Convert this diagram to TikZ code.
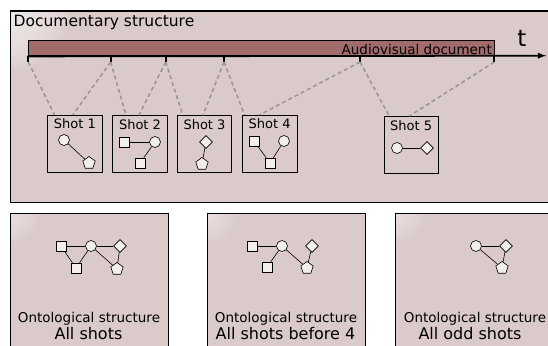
\documentclass[tikz,border=0pt]{standalone}
\usepackage{fontspec}
\setmainfont{DejaVu Sans}
\usetikzlibrary{shapes,arrows,positioning}

\definecolor{panelbg}{RGB}{218,202,202}
\definecolor{barred}{RGB}{162,108,108}
\definecolor{glyphfill}{RGB}{242,238,238}
\definecolor{cutgray}{RGB}{150,150,150}

\begin{document}
\begin{tikzpicture}[x=1pt, y=-1pt,
    panel/.style={rectangle, draw, line width=0.9pt, fill=panelbg, anchor=north west, inner sep=0pt},
    glow/.style={path picture={\foreach \r in {2,4,...,#1} \fill[white, opacity=0.045] (path picture bounding box.north west) circle (\r pt);}},
    docbar/.style={rectangle, draw, line width=1.4pt, fill=barred, minimum width=466pt, minimum height=15pt, inner sep=0pt},
    shot/.style={rectangle, draw, line width=0.8pt, minimum width=54.5pt, minimum height=57pt, inner sep=0pt},
    shotlbl/.style={font=\fontsize{13}{13}\selectfont, inner sep=0pt},
    sq/.style={rectangle, draw, fill=glyphfill, line width=0.6pt, minimum size=10pt, inner sep=0pt},
    circ/.style={circle, draw, fill=glyphfill, line width=0.6pt, minimum size=11pt, inner sep=0pt},
    diam/.style={diamond, draw, fill=glyphfill, line width=0.6pt, minimum size=13pt, inner sep=0pt},
    pent/.style={regular polygon, regular polygon sides=5, draw, fill=glyphfill, line width=0.6pt, minimum size=13pt, inner sep=0pt},
    link/.style={line width=0.6pt},
    cut/.style={cutgray, line width=1.5pt, dash pattern=on 4pt off 3pt},
    tickmark/.style={line width=2pt}
]
\useasboundingbox (0,0) rectangle (548,345);
\clip (0,0) rectangle (548,345);

% Documentary structure
\node[panel, glow=60, line width=1.2pt, minimum width=560pt, minimum height=191.5pt] (docstruct) at (10,10.5) {};
\node[anchor=base west, inner sep=0pt, font=\fontsize{15.5}{15.5}\selectfont] (docttl) at (13.5,27) {Documentary structure};

% time line
\node[docbar] (doc) at (261.3,48.2) {};
\node[anchor=base east, inner sep=0pt, font=\fontsize{13.5}{13.5}\selectfont] (doclbl) at (492,54) {Audiovisual document};
\coordinate (tend) at (546,55.7);
\draw[line width=1.8pt, -latex] (doc.south west) -- (tend);
\node[anchor=base, inner sep=0pt, font=\fontsize{23}{23}\selectfont] (tlbl) at (522,46.7) {t};
\foreach \n/\x in {0/28.3,1/110.7,2/165.7,3/224,4/360,5/494.3} {
    \coordinate (k\n) at (\x,62);
    \draw[tickmark] (\x,55.7) -- (k\n);
}

% Shots
\node[shot] (shot1) at (74.9,143.8) {};
\node[shot] (shot2) at (140,144.2) {};
\node[shot] (shot3) at (204.5,144.2) {};
\node[shot] (shot4) at (269.7,143.8) {};
\node[shot] (shot5) at (411.2,145) {};
\foreach \i in {1,...,5}
    \node[shotlbl, below=4pt of shot\i.north] (lbl\i) {Shot \i};

\draw[cut] (k0) -- ([xshift=7.3pt]shot1.north west);
\draw[cut] (k1) -- ([xshift=25.6pt]shot1.north west);
\draw[cut] (k1) -- ([xshift=13.7pt]shot2.north west);
\draw[cut] (k2) -- ([xshift=26.5pt]shot2.north west);
\draw[cut] (k2) -- ([xshift=6pt]shot3.north west);
\draw[cut] (k3) -- ([xshift=26pt]shot3.north west);
\draw[cut] (k3) -- ([xshift=2.5pt]shot4.north west);
\draw[cut] (k4) -- ([xshift=17.5pt]shot4.north west);
\draw[cut] (k4) -- ([xshift=5.7pt]shot5.north west);
\draw[cut] (k5) -- ([xshift=25.7pt]shot5.north west);

% shot contents
\node[circ] (s1_circ) at (64,140) {};
\node[pent] (s1_pent) at (89,163) {};
\draw[link] (s1_circ) -- (s1_pent);

\node[sq] (s2_sqa) at (124,142) {};
\node[circ] (s2_circ) at (155,142) {};
\node[sq] (s2_sqb) at (140,163) {};
\draw[link] (s2_sqa) -- (s2_circ);
\draw[link] (s2_circ) -- (s2_sqb);

\node[diam] (s3_diam) at (206,142) {};
\node[pent] (s3_pent) at (202,164) {};
\draw[link] (s3_diam) -- (s3_pent);

\node[sq] (s4_sqa) at (254,141) {};
\node[circ] (s4_circ) at (284,141) {};
\node[sq] (s4_sqb) at (270,163) {};
\draw[link] (s4_sqa) -- (s4_sqb);
\draw[link] (s4_circ) -- (s4_sqb);

\node[circ] (s5_circ) at (397,148) {};
\node[diam] (s5_diam) at (427,148) {};
\draw[link] (s5_circ) -- (s5_diam);

% Ontological structures
\node[panel, glow=30, minimum width=158pt, minimum height=150pt] (onto1) at (10,213) {};
\node[panel, glow=30, minimum width=158pt, minimum height=150pt] (onto2) at (207,213) {};
\node[panel, glow=30, minimum width=158pt, minimum height=150pt] (onto3) at (395,213) {};

\node[anchor=base, inner sep=0pt, font=\fontsize{13.5}{13.5}\selectfont] (o1a) at (89,322) {Ontological structure};
\node[anchor=base, inner sep=0pt, font=\fontsize{16}{16}\selectfont] (o1b) at (88.5,339) {All shots};
\node[anchor=base, inner sep=0pt, font=\fontsize{13.5}{13.5}\selectfont] (o2a) at (286,322) {Ontological structure};
\node[anchor=base, inner sep=0pt, font=\fontsize{16}{16}\selectfont] (o2b) at (285.5,339) {All shots before 4};
\node[anchor=base, inner sep=0pt, font=\fontsize{13.5}{13.5}\selectfont] (o3a) at (475,322) {Ontological structure};
\node[anchor=base, inner sep=0pt, font=\fontsize{16}{16}\selectfont] (o3b) at (470,339) {All odd shots};

% all shots
\node[sq] (p1_sqa) at (61,246) {};
\node[circ] (p1_circ) at (91,246) {};
\node[diam] (p1_diam) at (120,246) {};
\node[sq] (p1_sqb) at (76,268) {};
\node[pent] (p1_pent) at (117,269) {};
\draw[link] (p1_sqa) -- (p1_circ);
\draw[link] (p1_sqa) -- (p1_sqb);
\draw[link] (p1_circ) -- (p1_sqb);
\draw[link] (p1_circ) -- (p1_diam);
\draw[link] (p1_circ) -- (p1_pent);
\draw[link] (p1_diam) -- (p1_pent);

% shots before 4
\node[sq] (p2_sqa) at (252,246) {};
\node[circ] (p2_circ) at (282,246) {};
\node[diam] (p2_diam) at (312,246) {};
\node[sq] (p2_sqb) at (267,267) {};
\node[pent] (p2_pent) at (307,268) {};
\draw[link] (p2_sqa) -- (p2_circ);
\draw[link] (p2_circ) -- (p2_sqb);
\draw[link] (p2_circ) -- (p2_pent);
\draw[link] (p2_diam) -- (p2_pent);

% odd shots
\node[circ] (p3_circ) at (476,246) {};
\node[diam] (p3_diam) at (506,246) {};
\node[pent] (p3_pent) at (502,268) {};
\draw[link] (p3_circ) -- (p3_diam);
\draw[link] (p3_circ) -- (p3_pent);
\draw[link] (p3_diam) -- (p3_pent);

\end{tikzpicture}
\end{document}
